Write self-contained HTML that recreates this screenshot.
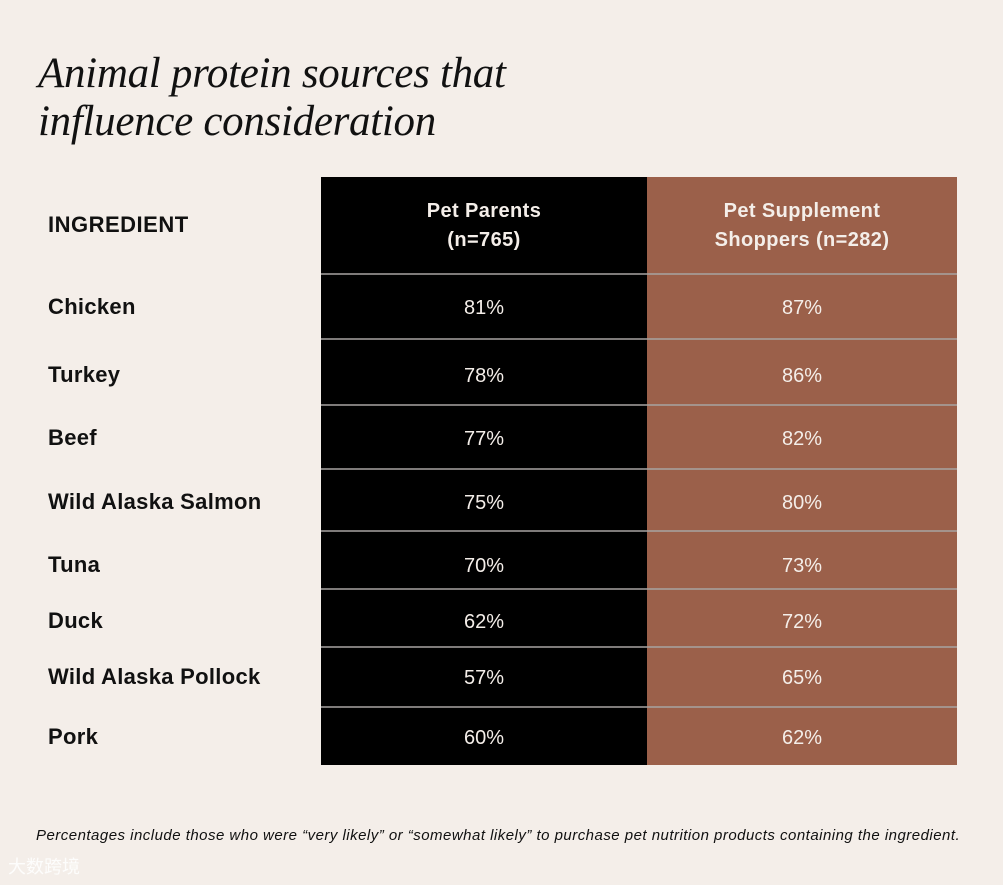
<!DOCTYPE html>
<html><head><meta charset="utf-8"><style>
body{margin:0;width:1003px;height:885px;background:#f4eee9;position:relative;overflow:hidden;font-family:"Liberation Sans",sans-serif}
.title{position:absolute;left:38px;top:50px;font-family:"Liberation Serif",serif;font-style:italic;font-size:43px;line-height:48px;color:#111;letter-spacing:-0.3px}
.foot{position:absolute;left:36px;top:827px;font-style:italic;font-size:15px;color:#111;letter-spacing:0.48px}
.wm{position:absolute;left:8px;top:853px;font-size:18px;color:#fff;font-family:"Liberation Sans","Noto Sans CJK SC",sans-serif;opacity:.9}
</style></head><body>
<div class="title">Animal protein sources that<br>influence consideration</div>
<svg id="tbl" width="1003" height="885" style="position:absolute;left:0;top:0"></svg>
<div class="foot">Percentages include those who were “very likely” or “somewhat likely” to purchase pet nutrition products containing the ingredient.</div>
<div class="wm">大数跨境</div>
<script>
const ingredients=["Chicken","Turkey","Beef","Wild Alaska Salmon","Tuna","Duck","Wild Alaska Pollock","Pork"];
const petParents=[81,78,77,75,70,62,57,60];
const supplementShoppers=[87,86,82,80,73,72,65,62];
const rowTops=[274,339,405,469,531,589,647,707,765];
const textMid=[307,375,438,502,565,621,677,737];
const svg=document.getElementById('tbl');const NS='http://www.w3.org/2000/svg';
function mk(t,a,txt){const e=document.createElementNS(NS,t);for(const k in a)e.setAttribute(k,a[k]);if(txt!==undefined)e.textContent=txt;svg.appendChild(e);return e;}
let e=mk('rect',{x:321,y:177,width:326,height:588,fill:'#000'});


e=mk('rect',{x:647,y:177,width:310,height:588,fill:'#9b604a'});


e=mk('text',{x:48,y:232,'font-size':22,'font-weight':'bold',fill:'#111','letter-spacing':'0.5'},'INGREDIENT');


[["Pet Parents","(n=765)",484],["Pet Supplement","Shoppers (n=282)",802]].forEach((h,i)=>{
 const t=mk('text',{x:h[2],y:217,'font-size':20,'font-weight':'bold',fill:'#f4eee9','text-anchor':'middle','letter-spacing':'0.4'});
 
 
 const a=document.createElementNS(NS,'tspan');a.setAttribute('x',h[2]);a.textContent=h[0];t.appendChild(a);
 const b=document.createElementNS(NS,'tspan');b.setAttribute('x',h[2]);b.setAttribute('dy','29');b.textContent=h[1];t.appendChild(b);
});
ingredients.forEach((name,i)=>{
 const top=rowTops[i],cy=textMid[i]+7;
 const l=mk('line',{x1:321,x2:957,y1:top,y2:top,stroke:'#a8a4a2','stroke-width':1.5});
 
 
 const n=mk('text',{x:48,y:cy,'font-size':22,'font-weight':'bold',fill:'#111','letter-spacing':'0.3'},name);
 
 
 const p=mk('text',{x:484,y:cy,'font-size':20,fill:'#f4eee9','text-anchor':'middle'},petParents[i]+'%');
 
 
 const s=mk('text',{x:802,y:cy,'font-size':20,fill:'#f4eee9','text-anchor':'middle'},supplementShoppers[i]+'%');
 
 
});
</script>
</body></html>
